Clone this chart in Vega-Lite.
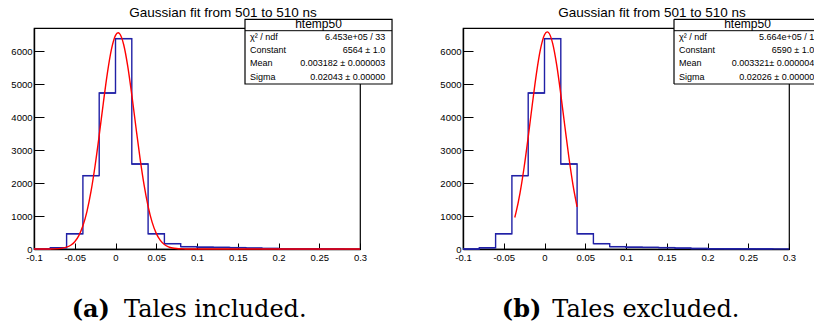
{
  "$schema": "https://vega.github.io/schema/vega-lite/v6.json",
  "background": "white",
  "autosize": {"type": "pad"},
  "padding": {"left": 10, "top": 4, "right": 0, "bottom": 0},
  "bounds": "flush",
  "spacing": 103,
  "config": {
    "font": "Liberation Sans",
    "view": {"stroke": "#000000", "strokeWidth": 1.2},
    "title": {"font": "Liberation Sans", "fontSize": 13.5, "fontWeight": "normal", "color": "#000000", "anchor": "middle", "frame": "group", "baseline": "alphabetic", "offset": -1, "dx": 26},
    "axisX": {
      "orient": "bottom",
      "title": null,
      "grid": false,
      "domainColor": "#000000",
      "domainWidth": 1.4,
      "tickColor": "#000000",
      "tickWidth": 1,
      "labelColor": "#000000",
      "labelFontSize": 9.5,
      "labelPadding": 9,
      "labelFlush": false,
      "labelOverlap": false,
      "labelBound": false,
      "values": [-0.1, -0.09, -0.08, -0.07, -0.06, -0.05, -0.04, -0.03, -0.02, -0.01, 0, 0.01, 0.02, 0.03, 0.04, 0.05, 0.06, 0.07, 0.08, 0.09, 0.1, 0.11, 0.12, 0.13, 0.14, 0.15, 0.16, 0.17, 0.18, 0.19, 0.2, 0.21, 0.22, 0.23, 0.24, 0.25, 0.26, 0.27, 0.28, 0.29, 0.3],
      "labelExpr": "abs(datum.value * 20 - round(datum.value * 20)) < 1e-6 ? toString(datum.value) : ''",
      "tickSize": {"condition": {"test": "abs(datum.value * 20 - round(datum.value * 20)) < 1e-6", "value": -6}, "value": -3}
    },
    "axisY": {
      "orient": "left",
      "title": null,
      "grid": false,
      "domainColor": "#000000",
      "domainWidth": 1.4,
      "tickColor": "#000000",
      "tickWidth": 1,
      "labelColor": "#000000",
      "labelFontSize": 9.5,
      "labelPadding": 12,
      "labelFlush": false,
      "labelOverlap": false,
      "labelBound": false,
      "values": [0, 200, 400, 600, 800, 1000, 1200, 1400, 1600, 1800, 2000, 2200, 2400, 2600, 2800, 3000, 3200, 3400, 3600, 3800, 4000, 4200, 4400, 4600, 4800, 5000, 5200, 5400, 5600, 5800, 6000, 6200, 6400, 6600],
      "labelExpr": "datum.value % 1000 === 0 ? toString(datum.value) : ''",
      "tickSize": {"condition": {"test": "datum.value % 1000 === 0", "value": -10}, "value": -5}
    }
  },
  "datasets": {
    "hist": [
      {"bin_start": -0.1, "bin_end": -0.08, "count": 0},
      {"bin_start": -0.08, "bin_end": -0.06, "count": 40},
      {"bin_start": -0.06, "bin_end": -0.04, "count": 465},
      {"bin_start": -0.04, "bin_end": -0.02, "count": 2226},
      {"bin_start": -0.02, "bin_end": 0, "count": 4735},
      {"bin_start": 0, "bin_end": 0.02, "count": 6385},
      {"bin_start": 0.02, "bin_end": 0.04, "count": 2580},
      {"bin_start": 0.04, "bin_end": 0.06, "count": 465},
      {"bin_start": 0.06, "bin_end": 0.08, "count": 162},
      {"bin_start": 0.08, "bin_end": 0.1, "count": 71},
      {"bin_start": 0.1, "bin_end": 0.12, "count": 52},
      {"bin_start": 0.12, "bin_end": 0.14, "count": 48},
      {"bin_start": 0.14, "bin_end": 0.16, "count": 42},
      {"bin_start": 0.16, "bin_end": 0.18, "count": 28},
      {"bin_start": 0.18, "bin_end": 0.2, "count": 14},
      {"bin_start": 0.2, "bin_end": 0.22, "count": 9},
      {"bin_start": 0.22, "bin_end": 0.24, "count": 6},
      {"bin_start": 0.24, "bin_end": 0.26, "count": 4},
      {"bin_start": 0.26, "bin_end": 0.28, "count": 3},
      {"bin_start": 0.28, "bin_end": 0.3, "count": 2}
    ],
    "fitA": [
      {"x": -0.1, "f": 0},
      {"x": -0.09, "f": 0.2},
      {"x": -0.08, "f": 1.6},
      {"x": -0.075, "f": 4.3},
      {"x": -0.07, "f": 10.7},
      {"x": -0.065, "f": 25.0},
      {"x": -0.06, "f": 55.0},
      {"x": -0.055, "f": 113.8},
      {"x": -0.05, "f": 221.7},
      {"x": -0.045, "f": 406.7},
      {"x": -0.04, "f": 703.1},
      {"x": -0.035, "f": 1144.6},
      {"x": -0.03, "f": 1755.3},
      {"x": -0.025, "f": 2534.9},
      {"x": -0.02, "f": 3448.1},
      {"x": -0.015, "f": 4417.4},
      {"x": -0.01, "f": 5330.4},
      {"x": -0.005, "f": 6058.1},
      {"x": 0, "f": 6484.9},
      {"x": 0.003182, "f": 6564},
      {"x": 0.005, "f": 6538.1},
      {"x": 0.01, "f": 6208.5},
      {"x": 0.015, "f": 5552.7},
      {"x": 0.02, "f": 4677.6},
      {"x": 0.025, "f": 3711.1},
      {"x": 0.03, "f": 2773.2},
      {"x": 0.035, "f": 1951.9},
      {"x": 0.04, "f": 1294.0},
      {"x": 0.045, "f": 808.0},
      {"x": 0.05, "f": 475.0},
      {"x": 0.055, "f": 263.2},
      {"x": 0.06, "f": 137.3},
      {"x": 0.065, "f": 67.5},
      {"x": 0.07, "f": 31.2},
      {"x": 0.075, "f": 13.6},
      {"x": 0.08, "f": 5.6},
      {"x": 0.085, "f": 2.2},
      {"x": 0.09, "f": 0.8},
      {"x": 0.1, "f": 0.1},
      {"x": 0.3, "f": 0}
    ],
    "fitB": [
      {"x": -0.0365, "f": 955.0},
      {"x": -0.035, "f": 1101.7},
      {"x": -0.03, "f": 1704.2},
      {"x": -0.025, "f": 2480.7},
      {"x": -0.02, "f": 3397.6},
      {"x": -0.015, "f": 4378.3},
      {"x": -0.01, "f": 5309.1},
      {"x": -0.005, "f": 6057.0},
      {"x": 0, "f": 6502.1},
      {"x": 0.003321, "f": 6590},
      {"x": 0.005, "f": 6567.4},
      {"x": 0.01, "f": 6241.5},
      {"x": 0.015, "f": 5581.2},
      {"x": 0.02, "f": 4695.9},
      {"x": 0.025, "f": 3717.5},
      {"x": 0.03, "f": 2769.1},
      {"x": 0.035, "f": 1940.8},
      {"x": 0.04, "f": 1279.8}
    ],
    "statsA": [
      {"name": "htemp50", "caption_tag": "(a)", "caption": "Tales included.",
       "labels": "χ² / ndf\nConstant\nMean\nSigma",
       "values": "6.453e+05 / 33\n6564 ± 1.0\n0.003182 ± 0.000003\n0.02043 ± 0.00000"}
    ],
    "statsB": [
      {"name": "htemp50", "caption_tag": "(b)", "caption": "Tales excluded.",
       "labels": "χ² / ndf\nConstant\nMean\nSigma",
       "values": "5.664e+05 / 1\n6590 ± 1.0\n0.003321± 0.000004\n0.02026 ± 0.00000"}
    ]
  },
  "hconcat": [
    {
      "width": 326,
      "height": 221,
      "title": "Gaussian fit from 501 to 510 ns",
      "layer": [
        {
          "data": {"name": "hist"},
          "mark": {"type": "rule", "color": "#2020a6", "strokeWidth": 1.4},
          "encoding": {
            "x": {"field": "bin_start", "type": "quantitative", "title": null, "scale": {"domain": [-0.1, 0.3], "nice": false, "zero": false}},
            "x2": {"field": "bin_end"},
            "y": {"field": "count", "type": "quantitative", "title": null, "scale": {"domain": [0, 6708], "nice": false}}
          }
        },
        {
          "data": {"name": "hist"},
          "mark": {"type": "line", "interpolate": "step-after", "color": "#2020a6", "strokeWidth": 1.4},
          "encoding": {
            "x": {"field": "bin_start", "type": "quantitative", "title": null},
            "y": {"field": "count", "type": "quantitative", "title": null}
          }
        },
        {
          "data": {"name": "fitA"},
          "mark": {"type": "line", "interpolate": "monotone", "color": "#ff0000", "strokeWidth": 1.4},
          "encoding": {
            "x": {"field": "x", "type": "quantitative", "title": null},
            "y": {"field": "f", "type": "quantitative", "title": null}
          }
        },
        {
          "data": {"name": "statsA"},
          "mark": {"type": "rect", "fill": "#ffffff", "stroke": "#000000", "strokeWidth": 1.2},
          "encoding": {
            "x": {"datum": 0.1589, "type": "quantitative"},
            "x2": {"datum": 0.3393},
            "y": {"datum": 6972, "type": "quantitative"},
            "y2": {"datum": 5008}
          }
        },
        {
          "data": {"name": "statsA"},
          "mark": {"type": "rule", "color": "#000000", "strokeWidth": 1},
          "encoding": {
            "x": {"datum": 0.1589, "type": "quantitative"},
            "x2": {"datum": 0.3393},
            "y": {"datum": 6626, "type": "quantitative"}
          }
        },
        {
          "data": {"name": "statsA"},
          "mark": {"type": "text", "align": "center", "baseline": "alphabetic", "fontSize": 12, "color": "#000000"},
          "encoding": {
            "x": {"datum": 0.2491, "type": "quantitative"},
            "y": {"datum": 6708, "type": "quantitative"},
            "text": {"field": "name"}
          }
        },
        {
          "data": {"name": "statsA"},
          "mark": {"type": "text", "align": "left", "baseline": "alphabetic", "fontSize": 9, "lineBreak": "\n", "lineHeight": 13.2, "color": "#000000"},
          "encoding": {
            "x": {"datum": 0.165, "type": "quantitative"},
            "y": {"datum": 6344, "type": "quantitative"},
            "text": {"field": "labels"}
          }
        },
        {
          "data": {"name": "statsA"},
          "mark": {"type": "text", "align": "right", "baseline": "alphabetic", "fontSize": 9, "lineBreak": "\n", "lineHeight": 13.2, "color": "#000000"},
          "encoding": {
            "x": {"datum": 0.331, "type": "quantitative"},
            "y": {"datum": 6344, "type": "quantitative"},
            "text": {"field": "values"}
          }
        },
        {
          "data": {"name": "statsA"},
          "mark": {"type": "text", "align": "right", "baseline": "alphabetic", "font": "DejaVu Serif", "fontSize": 24, "fontWeight": "bold", "color": "#000000"},
          "encoding": {
            "x": {"datum": -0.0068, "type": "quantitative"},
            "y": {"datum": -2064, "type": "quantitative"},
            "text": {"field": "caption_tag"}
          }
        },
        {
          "data": {"name": "statsA"},
          "mark": {"type": "text", "align": "left", "baseline": "alphabetic", "font": "DejaVu Serif", "fontSize": 24, "color": "#000000"},
          "encoding": {
            "x": {"datum": 0.0105, "type": "quantitative"},
            "y": {"datum": -2064, "type": "quantitative"},
            "text": {"field": "caption"}
          }
        }
      ]
    },
    {
      "width": 326,
      "height": 221,
      "title": "Gaussian fit from 501 to 510 ns",
      "layer": [
        {
          "data": {"name": "hist"},
          "mark": {"type": "rule", "color": "#2020a6", "strokeWidth": 1.4},
          "encoding": {
            "x": {"field": "bin_start", "type": "quantitative", "title": null, "scale": {"domain": [-0.1, 0.3], "nice": false, "zero": false}},
            "x2": {"field": "bin_end"},
            "y": {"field": "count", "type": "quantitative", "title": null, "scale": {"domain": [0, 6708], "nice": false}}
          }
        },
        {
          "data": {"name": "hist"},
          "mark": {"type": "line", "interpolate": "step-after", "color": "#2020a6", "strokeWidth": 1.4},
          "encoding": {
            "x": {"field": "bin_start", "type": "quantitative", "title": null},
            "y": {"field": "count", "type": "quantitative", "title": null}
          }
        },
        {
          "data": {"name": "fitB"},
          "mark": {"type": "line", "interpolate": "monotone", "color": "#ff0000", "strokeWidth": 1.4},
          "encoding": {
            "x": {"field": "x", "type": "quantitative", "title": null},
            "y": {"field": "f", "type": "quantitative", "title": null}
          }
        },
        {
          "data": {"name": "statsB"},
          "mark": {"type": "rect", "fill": "#ffffff", "strokeWidth": 0},
          "encoding": {
            "x": {"datum": 0.1589, "type": "quantitative"},
            "x2": {"datum": 0.332},
            "y": {"datum": 6972, "type": "quantitative"},
            "y2": {"datum": 5008}
          }
        },
        {
          "data": {"name": "statsB"},
          "mark": {"type": "rule", "color": "#000000", "strokeWidth": 1.2},
          "encoding": {
            "x": {"datum": 0.1589, "type": "quantitative"},
            "x2": {"datum": 0.332},
            "y": {"datum": 6972, "type": "quantitative"}
          }
        },
        {
          "data": {"name": "statsB"},
          "mark": {"type": "rule", "color": "#000000", "strokeWidth": 1.2},
          "encoding": {
            "x": {"datum": 0.1589, "type": "quantitative"},
            "x2": {"datum": 0.332},
            "y": {"datum": 5008, "type": "quantitative"}
          }
        },
        {
          "data": {"name": "statsB"},
          "mark": {"type": "rule", "color": "#000000", "strokeWidth": 1.2},
          "encoding": {
            "x": {"datum": 0.1589, "type": "quantitative"},
            "y": {"datum": 6972, "type": "quantitative"},
            "y2": {"datum": 5008}
          }
        },
        {
          "data": {"name": "statsB"},
          "mark": {"type": "rule", "color": "#000000", "strokeWidth": 1},
          "encoding": {
            "x": {"datum": 0.1589, "type": "quantitative"},
            "x2": {"datum": 0.332},
            "y": {"datum": 6626, "type": "quantitative"}
          }
        },
        {
          "data": {"name": "statsB"},
          "mark": {"type": "text", "align": "center", "baseline": "alphabetic", "fontSize": 12, "color": "#000000"},
          "encoding": {
            "x": {"datum": 0.2491, "type": "quantitative"},
            "y": {"datum": 6708, "type": "quantitative"},
            "text": {"field": "name"}
          }
        },
        {
          "data": {"name": "statsB"},
          "mark": {"type": "text", "align": "left", "baseline": "alphabetic", "fontSize": 9, "lineBreak": "\n", "lineHeight": 13.2, "color": "#000000"},
          "encoding": {
            "x": {"datum": 0.165, "type": "quantitative"},
            "y": {"datum": 6344, "type": "quantitative"},
            "text": {"field": "labels"}
          }
        },
        {
          "data": {"name": "statsB"},
          "mark": {"type": "text", "align": "right", "baseline": "alphabetic", "fontSize": 9, "lineBreak": "\n", "lineHeight": 13.2, "color": "#000000"},
          "encoding": {
            "x": {"datum": 0.331, "type": "quantitative"},
            "y": {"datum": 6344, "type": "quantitative"},
            "text": {"field": "values"}
          }
        },
        {
          "data": {"name": "statsB"},
          "mark": {"type": "text", "align": "right", "baseline": "alphabetic", "font": "DejaVu Serif", "fontSize": 24, "fontWeight": "bold", "color": "#000000"},
          "encoding": {
            "x": {"datum": -0.0039, "type": "quantitative"},
            "y": {"datum": -2064, "type": "quantitative"},
            "text": {"field": "caption_tag"}
          }
        },
        {
          "data": {"name": "statsB"},
          "mark": {"type": "text", "align": "left", "baseline": "alphabetic", "font": "DejaVu Serif", "fontSize": 24, "color": "#000000"},
          "encoding": {
            "x": {"datum": 0.0095, "type": "quantitative"},
            "y": {"datum": -2064, "type": "quantitative"},
            "text": {"field": "caption"}
          }
        }
      ]
    }
  ]
}
